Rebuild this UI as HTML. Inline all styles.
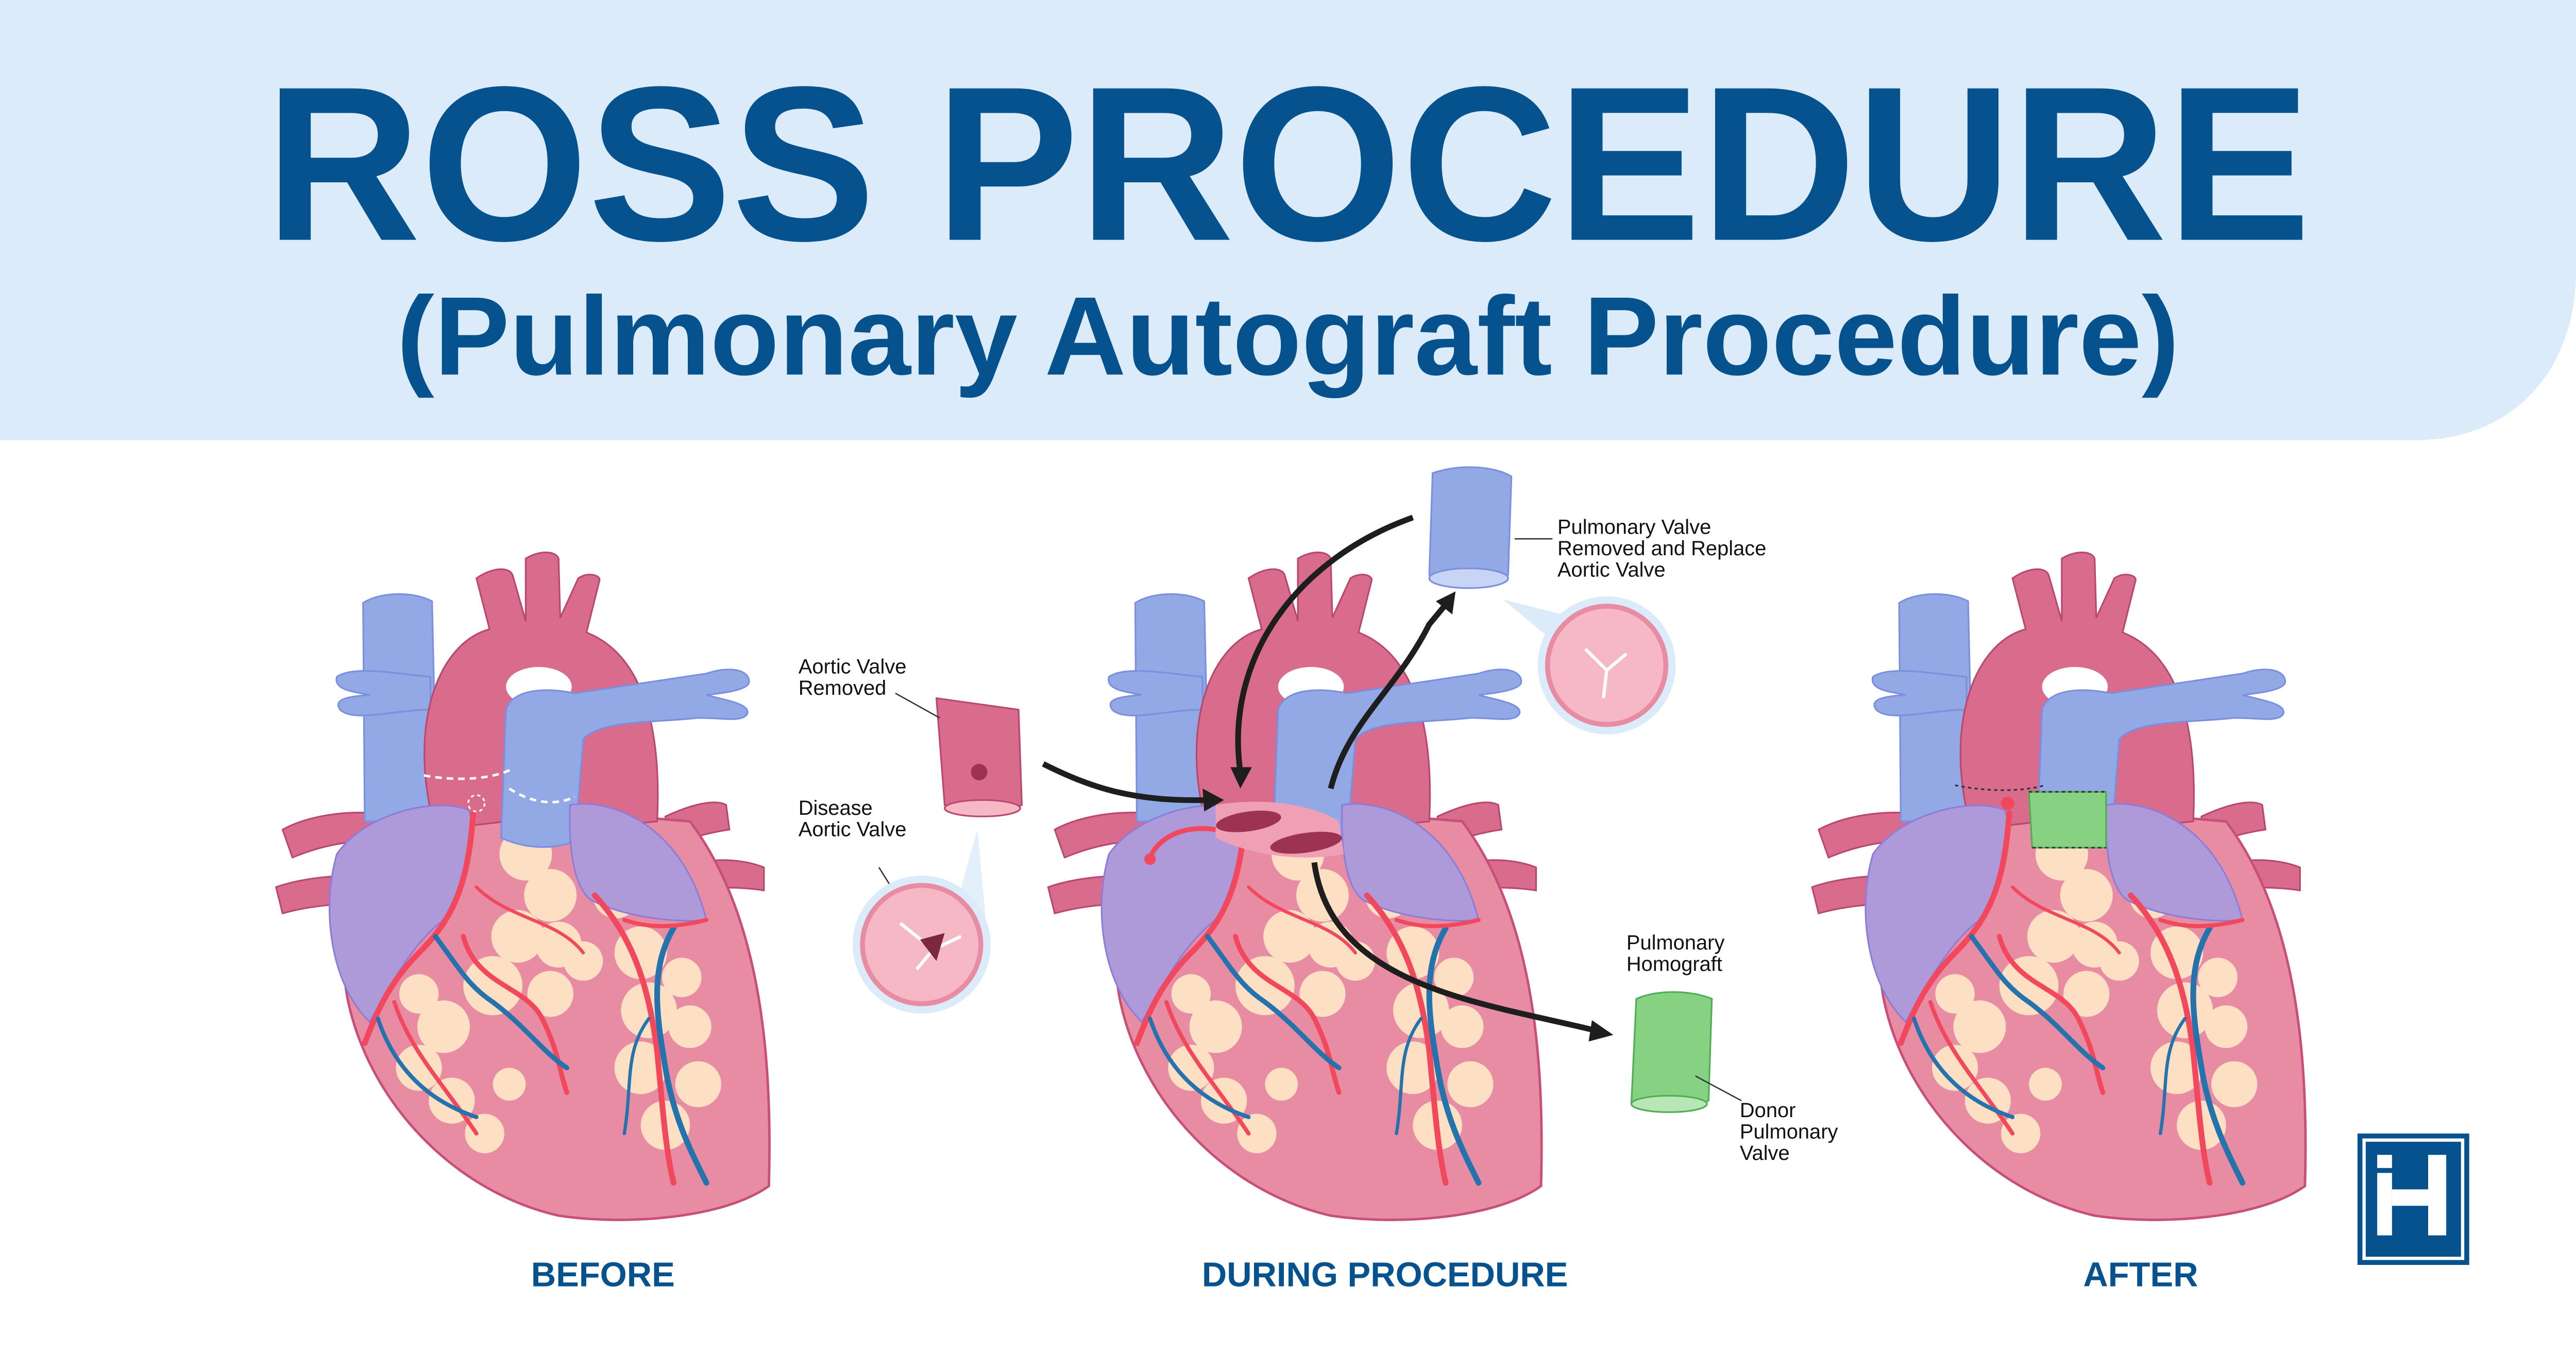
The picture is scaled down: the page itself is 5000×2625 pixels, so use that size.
<!DOCTYPE html>
<html><head><meta charset="utf-8"><style>
html,body{margin:0;padding:0;background:#fff;}
svg{display:block;}
text{font-family:"Liberation Sans",sans-serif;}
</style></head><body>
<svg width="5000" height="2625" viewBox="0 0 1568 823" preserveAspectRatio="none" xmlns="http://www.w3.org/2000/svg">
<defs>
<g id="heart">
  <path d="M172,505 C190,495 220,492 240,497 L238,513 C215,510 195,515 178,522 Z" fill="#d96b8c" stroke="#b84870" stroke-width="1"/>
  <path d="M168,540 C188,533 215,532 232,534 L232,551 C212,549 190,551 172,556 Z" fill="#d96b8c" stroke="#b84870" stroke-width="1"/>
  <path d="M405,497 C420,490 435,486 442,490 L444,505 C430,507 418,511 405,515 Z" fill="#d96b8c" stroke="#b84870" stroke-width="1"/>
  <path d="M425,525 C440,522 455,524 465,528 L465,542 C452,540 438,540 425,541 Z" fill="#d96b8c" stroke="#b84870" stroke-width="1"/>
  <path d="M221,367 C232,360 252,360 263,366 L266,500 L222,500 Z" fill="#93a9e6" stroke="#7b8fe0" stroke-width="1"/>
  <path d="M205,412 C215,405 240,410 262,412 L262,432 C240,432 215,440 207,432 C203,426 210,424 225,423 C215,421 203,420 205,412Z" fill="#93a9e6" stroke="#7b8fe0" stroke-width="1"/>
  <path d="M212,610 C200,555 235,500 300,490 L420,500 C465,560 470,650 468,722 C440,742 380,746 340,740 C275,725 225,670 212,610 Z" fill="#e88ca4" stroke="#c84f78" stroke-width="1.5"/>
  <path d="M265,505 C248,445 265,392 298,383 L290,352 C300,345 310,345 312,350 L320,378 L320,340 C328,335 338,335 340,340 L341,376 L352,352 C358,348 365,350 365,353 L357,385 C390,398 403,440 400,500 L348,505 L348,440 C348,418 310,412 308,440 L308,500 Z" fill="#d96b8c" stroke="#b84870" stroke-width="1"/>
  <ellipse cx="328" cy="418" rx="20" ry="12" fill="#fff"/>
  <g fill="#fde0c3">
    <circle cx="320" cy="520" r="16"/><circle cx="335" cy="545" r="16"/><circle cx="315" cy="570" r="16"/><circle cx="340" cy="575" r="14"/><circle cx="300" cy="600" r="18"/><circle cx="335" cy="605" r="14"/><circle cx="355" cy="585" r="12"/>
    <circle cx="270" cy="625" r="16"/><circle cx="255" cy="650" r="14"/><circle cx="275" cy="670" r="14"/><circle cx="295" cy="690" r="12"/><circle cx="310" cy="660" r="10"/><circle cx="255" cy="605" r="12"/>
    <circle cx="375" cy="545" r="14"/><circle cx="390" cy="580" r="16"/><circle cx="395" cy="615" r="17"/><circle cx="390" cy="650" r="16"/><circle cx="405" cy="685" r="15"/><circle cx="425" cy="660" r="14"/><circle cx="420" cy="625" r="13"/><circle cx="415" cy="595" r="12"/>
  </g>
  <path d="M308,432 C312,420 330,418 350,422 L430,410 C445,405 456,408 456,415 C456,420 440,422 430,423 C440,426 456,428 455,434 C453,440 440,437 425,437 C400,440 365,438 355,450 L350,512 C335,518 318,516 305,510 Z" fill="#93a9e6" stroke="#7b8fe0" stroke-width="1"/>
  <path d="M205,520 C222,495 265,485 285,493 C292,505 285,540 270,560 C250,575 238,600 225,622 C202,600 195,555 205,520Z" fill="#ae9ad8" stroke="#8c7ed8" stroke-width="1"/>
  <path d="M347,490 C370,486 415,500 430,560 C410,562 380,558 360,548 C348,540 346,510 347,490Z" fill="#ae9ad8" stroke="#8c7ed8" stroke-width="1"/>
  <g fill="none" stroke-linecap="round">
    <path d="M288,495 C285,540 275,560 255,580 C235,600 228,620 222,635" stroke="#f2485e" stroke-width="3.5"/>
    <path d="M282,570 C290,600 320,600 330,620 C340,640 340,650 345,665" stroke="#f2485e" stroke-width="3"/>
    <path d="M240,610 C250,640 270,660 290,690" stroke="#f2485e" stroke-width="2.5"/>
    <path d="M290,540 C310,560 340,560 355,580" stroke="#f2485e" stroke-width="2"/>
    <path d="M265,570 C280,590 285,600 300,610 C320,625 330,640 345,650" stroke="#2473ad" stroke-width="3"/>
    <path d="M230,620 C240,650 260,670 290,680" stroke="#2473ad" stroke-width="2.5"/>
    <path d="M362,545 C385,570 395,600 400,640 C403,670 405,700 410,720" stroke="#f2485e" stroke-width="3.5"/>
    <path d="M410,565 C395,590 400,620 405,650 C410,680 420,700 430,720" stroke="#2473ad" stroke-width="3.5"/>
    <path d="M430,560 C410,565 395,565 380,560" stroke="#f2485e" stroke-width="2.5"/>
    <path d="M395,620 C380,640 385,660 380,690" stroke="#2473ad" stroke-width="2"/>
  </g>
</g>
</defs>

<path d="M0,0 H1568 V165 C1568,225 1530,268 1470,268 H0 Z" fill="#dcebf9"/>
<text x="784" y="146" text-anchor="middle" font-size="134" font-weight="bold" fill="#06528f" textLength="1245" lengthAdjust="spacingAndGlyphs">ROSS PROCEDURE</text>
<text x="784" y="228" text-anchor="middle" font-size="68" font-weight="bold" fill="#06528f" textLength="1085" lengthAdjust="spacingAndGlyphs">(Pulmonary Autograft Procedure)</text>

<use href="#heart"/>
<path d="M258,472 C280,476 300,474 312,468 M310,480 C325,490 340,490 350,485" stroke="#fff" stroke-width="1.5" stroke-dasharray="4,3" fill="none"/>
<circle cx="290" cy="489" r="5" fill="none" stroke="#fff" stroke-dasharray="2,2"/>

<use href="#heart" transform="translate(470,0)"/>
<path d="M740,490 C770,485 800,490 815,500 L818,520 C790,525 760,520 740,510 Z" fill="#f0a0b5"/>
<ellipse cx="760" cy="500" rx="20" ry="6" fill="#9c3352" transform="rotate(-8 760 500)"/>
<ellipse cx="795" cy="513" rx="22" ry="6" fill="#9c3352" transform="rotate(-8 795 513)"/>
<path d="M740,505 C720,502 705,510 700,522" stroke="#f2485e" stroke-width="3" fill="none"/>
<circle cx="700" cy="523" r="3.5" fill="#f2485e"/>

<use href="#heart" transform="translate(935,0)"/>
<path d="M1190,478 C1210,482 1230,482 1245,478" stroke="#333" stroke-width="1" stroke-dasharray="2,2" fill="none"/>
<path d="M1235,482 L1282,482 L1282,516 L1237,516 Z" fill="#86d282" stroke="#4fae53"/>
<path d="M1235,482 H1282 M1237,516 H1282" stroke="#333" stroke-width="1" stroke-dasharray="2,2"/>
<circle cx="1222" cy="489" r="4" fill="#f2485e"/>

<g fill="none" stroke="#1e1e1e" stroke-width="3.5">
  <path d="M635,465 C665,480 690,488 735,487"/>
  <path d="M860,315 C790,340 745,400 755,470"/>
  <path d="M810,480 C820,440 850,420 870,380 L880,368"/>
  <path d="M800,525 C810,600 900,610 970,627"/>
</g>
<g fill="#1e1e1e">
  <path d="M745,487 L732,480 L733,494Z"/>
  <path d="M755,480 L749,467 L762,467Z"/>
  <path d="M886,360 L874,366 L884,374Z"/>
  <path d="M982,630 L969,621 L967,634Z"/>
</g>

<path d="M570,425 L620,432 L622,490 C610,497 585,496 575,490 Z" fill="#d96b8c" stroke="#b84870"/>
<ellipse cx="598" cy="492" rx="23" ry="5" fill="#f7b8c6" stroke="#b84870"/>
<circle cx="596" cy="470" r="5" fill="#9c3352"/>
<line x1="545" y1="422" x2="572" y2="437" stroke="#333" stroke-width="0.8"/>
<text x="486" y="410" font-size="12.5" fill="#111">Aortic Valve</text>
<text x="486" y="423" font-size="12.5" fill="#111">Removed</text>
<text x="486" y="496" font-size="12.5" fill="#111">Disease</text>
<text x="486" y="509" font-size="12.5" fill="#111">Aortic Valve</text>
<line x1="535" y1="528" x2="555" y2="560" stroke="#333" stroke-width="0.8"/>
<path d="M595,505 L585,540 L600,560Z" fill="#dcebf9" opacity="0.8"/>
<circle cx="561" cy="575" r="42" fill="#dcebf9"/>
<circle cx="561" cy="575" r="36" fill="#f7b8c6" stroke="#e88ca4" stroke-width="3"/>
<path d="M548,562 L568,578 L558,590 M568,578 L585,570" stroke="#fff" stroke-width="2" fill="none"/>
<path d="M560,572 L575,568 L570,585Z" fill="#7a2a3a"/>

<path d="M872,288 C890,282 910,284 920,290 L918,350 C905,358 880,358 870,350 Z" fill="#93a9e6" stroke="#7b8fe0"/>
<ellipse cx="894" cy="352" rx="24" ry="6" fill="#c8d4f5" stroke="#7b8fe0"/>
<line x1="922" y1="328" x2="945" y2="328" stroke="#333" stroke-width="0.8"/>
<text x="948" y="325" font-size="12.5" fill="#111">Pulmonary Valve</text>
<text x="948" y="338" font-size="12.5" fill="#111">Removed and Replace</text>
<text x="948" y="351" font-size="12.5" fill="#111">Aortic Valve</text>
<path d="M915,365 L945,390 L955,375Z" fill="#dcebf9"/>
<circle cx="978" cy="405" r="42" fill="#dcebf9"/>
<circle cx="978" cy="405" r="36" fill="#f7b8c6" stroke="#e88ca4" stroke-width="3"/>
<path d="M965,395 L978,408 L990,398 M978,408 L976,425" stroke="#fff" stroke-width="2" fill="none"/>

<text x="990" y="578" font-size="12.5" fill="#111">Pulmonary</text>
<text x="990" y="591" font-size="12.5" fill="#111">Homograft</text>
<path d="M996,608 C1010,602 1030,603 1042,608 L1040,670 C1025,678 1005,678 993,672 Z" fill="#86d282" stroke="#4fae53"/>
<ellipse cx="1016" cy="672" rx="23" ry="5" fill="#b8e6b4" stroke="#4fae53"/>
<line x1="1032" y1="655" x2="1060" y2="670" stroke="#333" stroke-width="0.8"/>
<text x="1059" y="680" font-size="12.5" fill="#111">Donor</text>
<text x="1059" y="693" font-size="12.5" fill="#111">Pulmonary</text>
<text x="1059" y="706" font-size="12.5" fill="#111">Valve</text>

<text x="367" y="783" text-anchor="middle" font-size="21" font-weight="bold" fill="#06528f">BEFORE</text>
<text x="843" y="783" text-anchor="middle" font-size="21" font-weight="bold" fill="#06528f">DURING PROCEDURE</text>
<text x="1303" y="783" text-anchor="middle" font-size="21" font-weight="bold" fill="#06528f">AFTER</text>

<rect x="1435" y="690" width="68" height="80" fill="#06528f"/>
<rect x="1439" y="694" width="60" height="72" fill="none" stroke="#fff" stroke-width="2"/>
<rect x="1447" y="714" width="9" height="38" fill="#fff"/>
<rect x="1447" y="703" width="9" height="8" fill="#fff"/>
<rect x="1478" y="703" width="11" height="49" fill="#fff"/>
<rect x="1456" y="724" width="22" height="10" fill="#fff"/>
</svg>
</body></html>
